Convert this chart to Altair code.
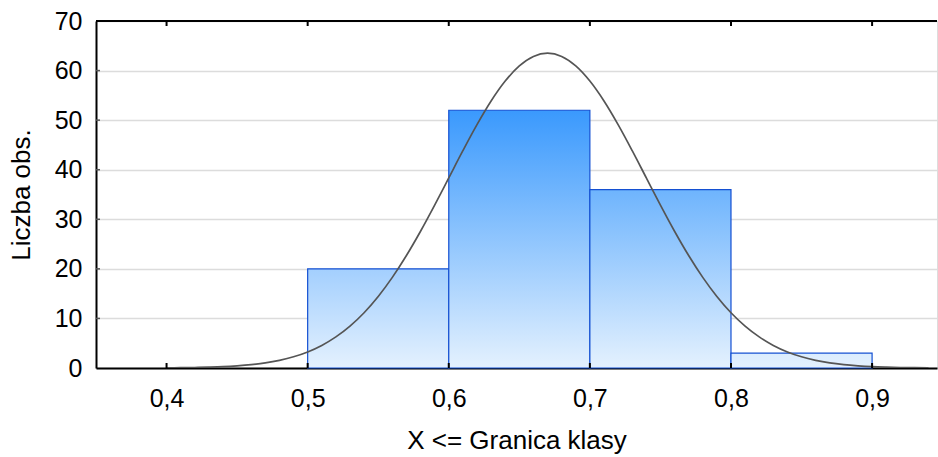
import altair as alt
import pandas as pd

# ---- data ----
bin_lo = [0.5, 0.6, 0.7, 0.8]
bin_hi = [0.6, 0.7, 0.8, 0.9]
counts = [20, 52, 36, 3]

curve_x = [0.40, 0.41, 0.42, 0.43, 0.44, 0.45, 0.46, 0.47, 0.48, 0.49,
           0.50, 0.51, 0.52, 0.53, 0.54, 0.55, 0.56, 0.57, 0.58, 0.59,
           0.60, 0.61, 0.62, 0.63, 0.64, 0.65, 0.66, 0.67, 0.68, 0.69,
           0.70, 0.71, 0.72, 0.73, 0.74, 0.75, 0.76, 0.77, 0.78, 0.79,
           0.80, 0.81, 0.82, 0.83, 0.84, 0.85, 0.86, 0.87, 0.88, 0.89,
           0.90, 0.91, 0.92, 0.93, 0.94]
curve_y = [0.04, 0.06, 0.10, 0.17, 0.27, 0.44, 0.68, 1.03, 1.55, 2.26,
           3.24, 4.55, 6.27, 8.45, 11.15, 14.43, 18.28, 22.69, 27.59, 32.86,
           38.35, 43.84, 49.09, 53.86, 57.88, 60.94, 62.85, 63.5, 62.85, 60.94,
           57.88, 53.86, 49.09, 43.84, 38.35, 32.86, 27.59, 22.69, 18.28, 14.43,
           11.15, 8.45, 6.27, 4.55, 3.24, 2.26, 1.55, 1.03, 0.68, 0.44,
           0.27, 0.17, 0.10, 0.06, 0.04]

x_ticks = [0.4, 0.5, 0.6, 0.7, 0.8, 0.9]
y_ticks = [0, 10, 20, 30, 40, 50, 60, 70]

# ---- layout / style ----
W, H = 841, 347
FONT = "Liberation Sans"
X_DOMAIN = [0.35, 0.946]
Y_DOMAIN = [0, 70]

bars = pd.DataFrame({"lo": bin_lo, "hi": bin_hi, "n": counts})
curve = pd.DataFrame({"lo": curve_x, "n": curve_y})
xt = pd.DataFrame({"lo": x_ticks})
yt = pd.DataFrame({"n": y_ticks[1:-1]})

xscale = alt.Scale(domain=X_DOMAIN, nice=False, zero=False)
yscale = alt.Scale(domain=Y_DOMAIN, nice=False)

LIGHT = (228, 241, 254)
DARK = (58, 153, 253)


def mix(t):
    c = [round(a + (b - a) * t) for a, b in zip(LIGHT, DARK)]
    return "#%02x%02x%02x" % tuple(c)


xaxis = alt.Axis(values=x_ticks, title="X <= Granica klasy",
                 labelExpr="replace(format(datum.value, '.1f'), '.', ',')",
                 grid=False, ticks=False, domainColor="black", domainWidth=2,
                 labelFont=FONT, labelFontSize=25, labelColor="black",
                 labelPadding=18, titleFont=FONT, titleFontSize=26,
                 titleFontWeight="normal", titleColor="black", titlePadding=16)
yaxis = alt.Axis(values=y_ticks, title="Liczba obs.",
                 grid=True, gridColor="#dcdcdc", gridWidth=1.5,
                 ticks=False, domainColor="black", domainWidth=2,
                 labelFont=FONT, labelFontSize=25, labelColor="black",
                 labelPadding=14, titleFont=FONT, titleFontSize=26,
                 titleFontWeight="normal", titleColor="black", titlePadding=20)

X = lambda: alt.X("lo:Q", scale=xscale, axis=xaxis)
Y = lambda: alt.Y("n:Q", scale=yscale, axis=yaxis)

ymax = max(counts)
layers = []
for i in range(len(counts)):
    grad = {"gradient": "linear", "x1": 0, "y1": 1, "x2": 0, "y2": 0,
            "stops": [{"offset": 0, "color": mix(0)},
                      {"offset": 1, "color": mix(counts[i] / ymax)}]}
    layers.append(
        alt.Chart(bars.iloc[[i]]).mark_rect(fill=grad, stroke="#1450d2",
                                             strokeWidth=1.2).encode(
            x=X(), x2="hi:Q", y=Y(), y2=alt.datum(0))
    )

line = alt.Chart(curve).mark_line(color="#555555", strokeWidth=1.7,
                                  interpolate="monotone", clip=True).encode(
    x=X(), y=Y())

top_line = alt.Chart(xt).mark_rule(color="black", strokeWidth=2).encode(
    x=alt.value(0), x2=alt.value(W), y=alt.value(0))

bot_ticks = alt.Chart(xt).mark_rule(color="black", strokeWidth=2).encode(
    x=X(), y=alt.value(H), y2=alt.value(H - 5))
top_ticks = alt.Chart(xt).mark_rule(color="black", strokeWidth=2).encode(
    x=X(), y=alt.value(0), y2=alt.value(5))
left_ticks = alt.Chart(yt).mark_rule(color="#555555", strokeWidth=1.5).encode(
    y=Y(), x=alt.value(0), x2=alt.value(4))

chart = alt.layer(*layers, line, top_line, bot_ticks, top_ticks, left_ticks).properties(
    width=W, height=H,
    autosize=alt.AutoSizeParams(type="none"),
    padding={"left": 96, "top": 21, "right": 1, "bottom": 89},
).configure_view(stroke=None).configure(background="white")

chart.save("out.html", embed_options={"renderer": "svg", "actions": False})
